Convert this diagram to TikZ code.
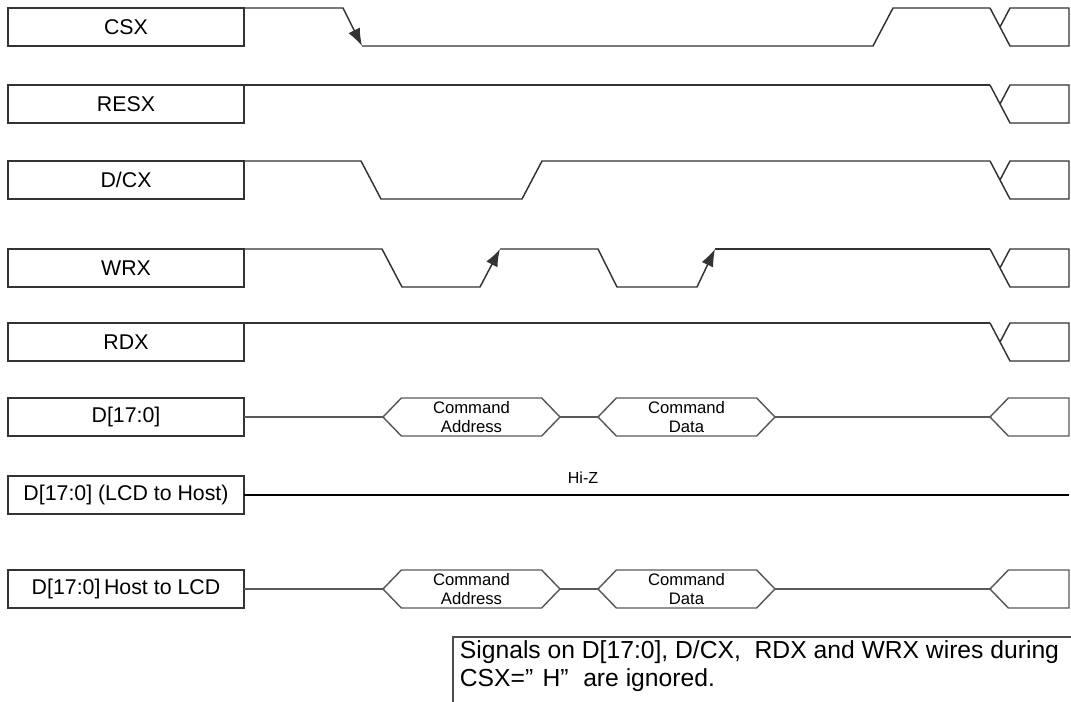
\documentclass[tikz,border=0pt]{standalone}
\usepackage{fontspec}
\setmainfont{Liberation Sans}
\usetikzlibrary{arrows.meta, positioning, shapes.symbols}

\begin{document}
\begin{tikzpicture}[x=0.75pt, y=-0.75pt,
    lbl/.style={draw=black!80, line width=1.1pt, outer sep=0pt, inner sep=0pt,
      minimum width=177pt, minimum height=28.5pt, font=\fontsize{16}{18}\selectfont},
    sig/.style={draw=black!80, line width=1.1pt},
    bus/.style={draw=black!65, line width=1.1pt},
    hex/.style={shape=signal, signal to=west and east, signal pointer angle=92,
      draw=black!65, line width=1.1pt, outer sep=0pt, inner sep=0pt,
      minimum width=132.75pt, minimum height=28.5pt,
      align=center, font=\fontsize{12.5}{14.25}\selectfont},
    busend/.style={hex, signal to=west, minimum width=59.25pt, anchor=west},
    tip/.style={-{Latex[length=13pt, width=9.5pt]}}
]
\useasboundingbox (0,0) rectangle (1071,702);
\clip (0,0) rectangle (1071,702);

%% signal names
\node[lbl] (csx)  at (126,27)  {CSX};
\node[lbl] (resx) at (126,104) {RESX};
\node[lbl] (dcx)  at (126,180) {D/CX};
\node[lbl] (wrx)  at (126,268) {WRX};
\node[lbl] (rdx)  at (126,342) {RDX};
\node[lbl] (dbus) at (126,417) {D[17:0]};
\node[lbl] (lcd)  at (126,495) {D[17:0] (LCD to Host)};
\node[lbl] (host) at (126,589) {D[17:0]\,Host to LCD};

%% control lines
\draw[sig, tip] (csx.north east) -- (343,8) -- (362,46);
\draw[sig] (362,46) -- (873,46) -- (893,8) -- (990,8);
\draw[sig] (resx.north east) -- (990,85);
\draw[sig] (dcx.north east) -- (361,161) -- (381,199) -- (522,199) -- (542,161) -- (990,161);
\draw[sig, tip] (wrx.north east) -- (382,249) -- (402,287) -- (480,287) -- (500,249);
\draw[sig, tip] (500,249) -- (598,249) -- (617,287) -- (697,287) -- (715,249);
\draw[sig] (715,249) -- (990,249);
\draw[sig] (rdx.north east) -- (990,323);
% crossings at the right end
\foreach \t in {8,85,161,249,323}{
  \draw[sig] (990,\t) -- (1010,\t+38) -- (1069,\t+38) -- (1069,\t) -- (1010,\t) -- (1000,\t+19);
}

%% data bus
\foreach \b/\y in {dbus/417, host/589}{
  \node[hex] (adr-\b) at (471.5,\y) {Command\\Address};
  \node[hex] (dat-\b) at (686.5,\y) {Command\\Data};
  \node[busend] (end-\b) at (990,\y) {};
  \draw[bus] (\b.east) -- (adr-\b.west);
  \draw[bus] (adr-\b.east) -- (dat-\b.west);
  \draw[bus] (dat-\b.east) -- (end-\b.west);
}

%% Hi-Z
\node[font=\fontsize{12}{14}\selectfont] (hiz) at (583,478) {Hi-Z};
\coordinate (hizend) at (1069,495);
\draw[line width=1.1pt] (lcd.east) -- (hizend);

%% note
\node[anchor=north west, align=left, inner xsep=5pt, inner ysep=2.5pt,
  font=\fontsize{18.5}{21}\selectfont] (note) at (453,637)
  {Signals on D[17:0], D/CX,\ \ RDX and WRX wires during\\
   CSX=”\hspace{7pt}H”\hspace{11pt}are ignored.};
\coordinate (notebl) at (453,720);
\coordinate (notetr) at (1090,637);
\draw[draw=black!70, line width=1.1pt] (notebl) -- (note.north west) -- (notetr);
\end{tikzpicture}
\end{document}
